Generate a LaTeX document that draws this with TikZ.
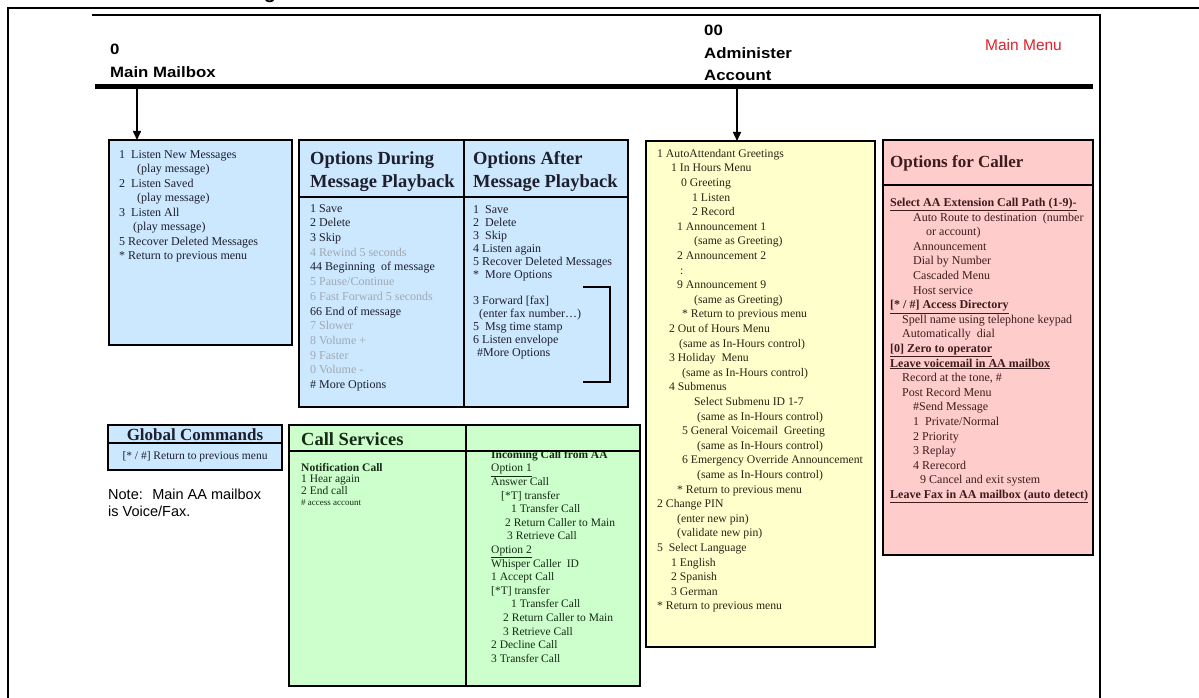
\documentclass[tikz,border=0pt]{standalone}
\usepackage{fontspec}
\setmainfont{Liberation Serif}
\newfontfamily\hdrfont{Liberation Sans}[FakeStretch=1.12]
\newfontfamily\notefont{Liberation Sans}
\usetikzlibrary{arrows.meta}
\definecolor{bluebox}{RGB}{204,232,255}
\definecolor{yellowbox}{RGB}{255,255,204}
\definecolor{pinkbox}{RGB}{255,204,204}
\definecolor{greenbox}{RGB}{204,255,204}
\definecolor{mmred}{RGB}{222,32,44}
\definecolor{greytext}{RGB}{160,168,176}
\definecolor{inktext}{RGB}{30,30,45}
\definecolor{pinkink}{RGB}{60,28,28}
\definecolor{greenink}{RGB}{22,42,22}
\definecolor{yellowink}{RGB}{40,36,20}
\newcommand\myind[1]{\hspace*{#1pt}}
\begin{document}
\begin{tikzpicture}[x=1pt,y=-1pt,
  boxbase/.style={draw=black, line width=2.4pt, inner sep=0pt, outer sep=0pt, anchor=north west},
  divline/.style={draw=black, line width=2.4pt},
  bodytext/.style={anchor=north west, align=left, inner sep=0pt, text=inktext,
     font=\fontsize{12}{14.5}\selectfont},
  boxtitle/.style={anchor=north west, align=left, inner sep=0pt, text=inktext,
     font=\fontsize{18.5}{23}\selectfont\bfseries},
  toptext/.style={anchor=west, inner sep=0pt, font=\hdrfont\fontsize{15}{16}\selectfont\bfseries},
  downarrow/.style={line width=1.6pt, -{Triangle[length=9pt,width=8pt]}},
  frameline/.style={line width=1.1pt}]
\useasboundingbox (0,0) rectangle (1199,698);

% page / frame lines
\draw[frameline] (8,698) -- (8,8) -- (1199,8);
\draw[frameline] (92,15) -- (1100,15) -- (1100,698);
\node[anchor=base, inner sep=0pt, font=\notefont\fontsize{20}{22}\selectfont\bfseries] (cutg) at (270,-1) {g};

% top headings
\node[toptext] (zero) at (110,49) {0};
\node[toptext] (mainmb) at (110,72) {Main Mailbox};
\node[toptext] (dzero) at (704,30) {00};
\node[toptext] (admin) at (704,53) {Administer};
\node[toptext] (acct) at (704,75) {Account};
\node[anchor=west, inner sep=0pt, text=mmred, font=\notefont\fontsize{15.5}{17}\selectfont] (mmenu) at (985,45) {Main Menu};

\draw[line width=5pt] (95,87) -- (1093,87);

% boxes
\node[boxbase, fill=bluebox, minimum width=183pt, minimum height=205pt] (mbox) at (109,140) {};
\node[boxbase, fill=bluebox, minimum width=329pt, minimum height=267pt] (opttab) at (299,140) {};
\draw[divline] (464,140) -- (464,407);
\draw[divline] (299,197) -- (628,197);
\node[boxbase, fill=yellowbox, minimum width=229pt, minimum height=506pt] (ybox) at (646,141) {};
\node[boxbase, fill=pinkbox, minimum width=210pt, minimum height=415pt] (pbox) at (883,140) {};
\draw[divline] (883,185) -- (1093,185);
\node[boxbase, fill=bluebox, minimum width=174pt, minimum height=45pt] (gbox) at (108,425) {};
\draw[divline] (108,443) -- (282,443);
\node[boxbase, fill=greenbox, minimum width=351pt, minimum height=261pt] (cbox) at (289,425) {};

% arrows
\coordinate (tapA) at (137,87);
\coordinate (tapB) at (737,87);
\draw[downarrow] (tapA) -- (tapA |- mbox.north);
\draw[downarrow] (tapB) -- (tapB |- ybox.north);

% mailbox text
\node[bodytext] (mtext) at (119,150) {1 \ Listen New Messages\\
\myind{18}(play message)\\
2 \ Listen Saved\\
\myind{18}(play message)\\
3 \ Listen All\\
\myind{14}(play message)\\
5 Recover Deleted Messages\\
* Return to previous menu};

% options during
\node[boxtitle] (durt) at (310,151) {Options During\\Message Playback};
\node[bodytext, font=\fontsize{12}{14.7}\selectfont] (durb) at (310,204) {1 Save\\
2 Delete\\
3 Skip\\
{\color{greytext}4 Rewind 5 seconds}\\
44 Beginning \ of message\\
{\color{greytext}5 Pause/Continue}\\
{\color{greytext}6 Fast Forward 5 seconds}\\
66 End of message\\
{\color{greytext}7 Slower}\\
{\color{greytext}8 Volume +}\\
{\color{greytext}9 Faster}\\
{\color{greytext}0 Volume -}\\
\# More Options};

% options after
\node[boxtitle] (aftt) at (473,151) {Options After\\Message Playback};
\node[bodytext, font=\fontsize{12}{13}\selectfont] (aftb) at (473,205) {1 \ Save\\
2 \ Delete\\
3 \ Skip\\
4 Listen again\\
5 Recover Deleted Messages\\
* \ More Options\\
\mbox{}\\
3 Forward {[fax]}\\
\myind{6}(enter fax number\ldots)\\
5 \ Msg time stamp\\
6 Listen envelope\\
\myind{4}\#More Options};
\coordinate (brA) at (583,287);
\coordinate (brB) at (583,382);
\draw[line width=2.4pt] (brA) -- (610,287) -- (610,382) -- (brB);

% yellow box
\node[bodytext, text=yellowink, font=\fontsize{11.7}{14.6}\selectfont] (ytext) at (657,149) {1 AutoAttendant Greetings\\
\myind{14}1 In Hours Menu\\
\myind{24}0 Greeting\\
\myind{35}1 Listen\\
\myind{35}2 Record\\
\myind{20}1 Announcement 1\\
\myind{37}(same as Greeting)\\
\myind{20}2 Announcement 2\\
\myind{23}:\\
\myind{20}9 Announcement 9\\
\myind{37}(same as Greeting)\\
\myind{25}* Return to previous menu\\
\myind{12}2 Out of Hours Menu\\
\myind{22}(same as In-Hours control)\\
\myind{12}3 Holiday \ Menu\\
\myind{25}(same as In-Hours control)\\
\myind{12}4 Submenus\\
\myind{37}Select Submenu ID 1-7\\
\myind{40}(same as In-Hours control)\\
\myind{25}5 General Voicemail \ Greeting\\
\myind{40}(same as In-Hours control)\\
\myind{25}6 Emergency Override Announcement\\
\myind{40}(same as In-Hours control)\\
\myind{20}* Return to previous menu\\
2 Change PIN\\
\myind{20}(enter new pin)\\
\myind{20}(validate new pin)\\
5 \ Select Language\\
\myind{14}1 English\\
\myind{14}2 Spanish\\
\myind{14}3 German\\
* Return to previous menu};

% pink box
\node[boxtitle, anchor=west, text=pinkink, font=\fontsize{17}{20}\selectfont\bfseries] (pt) at (890,163) {Options for Caller};
\node[bodytext, text=pinkink, font=\fontsize{12}{14.6}\selectfont] (pb) at (890,198) {\textbf{\underline{Select AA Extension Call Path (1-9)-}}\\
\myind{23}Auto Route to destination \ (number\\
\myind{36}or account)\\
\myind{23}Announcement\\
\myind{23}Dial by Number\\
\myind{23}Cascaded Menu\\
\myind{23}Host service\\
\textbf{\underline{{[}* / \#{]} Access Directory}}\\
\myind{12}Spell name using telephone keypad\\
\myind{12}Automatically \ dial\\
\textbf{\underline{{[}0{]} Zero to operator}}\\
\textbf{\underline{Leave voicemail in AA mailbox}}\\
\myind{12}Record at the tone, \#\\
\myind{12}Post Record Menu\\
\myind{23}\#Send Message\\
\myind{23}1 \ Private/Normal\\
\myind{23}2 Priority\\
\myind{23}3 Replay\\
\myind{23}4 Rerecord\\
\myind{30}9 Cancel and exit system\\
\textbf{\underline{Leave Fax in AA mailbox (auto detect)}}};

% global commands
\node[anchor=center, inner sep=0pt, text=inktext, font=\fontsize{17}{18}\selectfont\bfseries] (gt) at (195,434.5) {Global Commands};
\node[anchor=center, inner sep=0pt, text=inktext, font=\fontsize{11.5}{13}\selectfont] (gb) at (195,457) {{[}* / \#{]} Return to previous menu};

% note
\node[anchor=north west, align=left, inner sep=0pt, font=\notefont\fontsize{14.5}{17}\selectfont] (note) at (108,489) {Note: \ Main AA mailbox\\is Voice/Fax.};

% call services
\draw[divline] (466,425) -- (466,686);
\draw[divline] (289,451) -- (640,451);
\node[boxtitle, anchor=west, text=greenink] (ct) at (301,439) {Call Services};
\node[bodytext, text=greenink, font=\fontsize{11.5}{11.5}\selectfont] (cl) at (301,463) {\textbf{Notification Call}\\
1 Hear again\\
2 End call\\
{\fontsize{9}{10}\selectfont\# access account}};
\begin{scope}
\clip (467,452.2) rectangle (640,686);
\node[bodytext, text=greenink, font=\fontsize{11.5}{13.6}\selectfont] (cr) at (491,450) {\textbf{Incoming Call from AA}\\
\underline{Option 1}\\
Answer Call\\
\myind{10}{[}*T{]} transfer\\
\myind{20}1 Transfer Call\\
\myind{14}2 Return Caller to Main\\
\myind{16}3 Retrieve Call\\
\underline{Option 2}\\
Whisper Caller \ ID\\
1 Accept Call\\
{[}*T{]} transfer\\
\myind{20}1 Transfer Call\\
\myind{12}2 Return Caller to Main\\
\myind{12}3 Retrieve Call\\
2 Decline Call\\
3 Transfer Call};
\end{scope}
\end{tikzpicture}
\end{document}
